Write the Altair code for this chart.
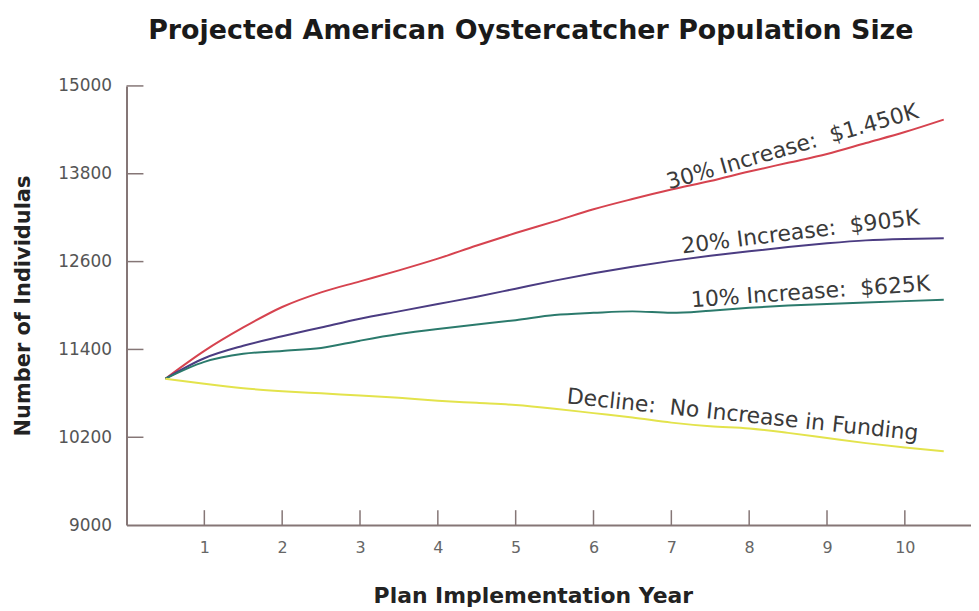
import altair as alt
import pandas as pd

# ---- data ----
years = [0.5, 1, 1.5, 2, 2.5, 3, 3.5, 4, 4.5, 5, 5.5, 6, 6.5, 7, 7.5, 8, 8.5, 9, 9.5, 10, 10.5]
pop_30 = [11000, 11380, 11700, 11980, 12180, 12330, 12480, 12640, 12820, 12990, 13150,
          13315, 13455, 13585, 13700, 13830, 13950, 14070, 14220, 14370, 14540]
pop_20 = [11000, 11280, 11450, 11580, 11700, 11820, 11920, 12020, 12120, 12230, 12340,
          12440, 12530, 12610, 12680, 12740, 12800, 12850, 12890, 12910, 12920]
pop_10 = [11000, 11230, 11340, 11380, 11420, 11520, 11610, 11680, 11740, 11800, 11870,
          11900, 11920, 11900, 11930, 11970, 12000, 12020, 12040, 12060, 12080]
pop_0 = [11000, 10930, 10870, 10830, 10800, 10770, 10740, 10700, 10670, 10640, 10590,
         10530, 10470, 10400, 10350, 10320, 10260, 10190, 10120, 10060, 10010]

series_names = ["Decline", "10% Increase", "20% Increase", "30% Increase"]
series_colors = ["#e3e34c", "#2b7a6c", "#4b3c82", "#d6434f"]

y_ticks = [9000, 10200, 11400, 12600, 13800, 15000]
x_ticks = [1, 2, 3, 4, 5, 6, 7, 8, 9, 10]

NB = "\u00a0"
label_text = ["30% Increase:" + NB + NB + "$1.450K", "20% Increase:" + NB + NB + "$905K",
              "10% Increase:" + NB + NB + "$625K", "Decline:" + NB + NB + "No Increase in Funding"]
label_x = [8.6, 8.68, 8.8, 7.9]
label_y = [14000, 12830, 12010, 10330]
label_angle = [344, 353, 356, 6]

# ---- tables ----
rows = []
for name, vals in zip(["30% Increase", "20% Increase", "10% Increase", "Decline"],
                      [pop_30, pop_20, pop_10, pop_0]):
    for yr, v in zip(years, vals):
        rows.append({"year": yr, "pop": v, "series": name})
lines_df = pd.DataFrame(rows)
labels_df = pd.DataFrame({"text": label_text, "x": label_x, "y": label_y, "angle": label_angle})
yt_df = pd.DataFrame({"v": y_ticks[1:]})
xt_df = pd.DataFrame({"v": x_ticks})

AXIS_COLOR = "#857676"
W, H = 848, 441
xscale = alt.Scale(domain=[0, 10.85], nice=False, zero=False)
yscale = alt.Scale(domain=[9000, 15000], nice=False, zero=False)

lines = alt.Chart(lines_df).mark_line(strokeWidth=2, interpolate="monotone").encode(
    x=alt.X("year:Q", scale=xscale,
            axis=alt.Axis(values=x_ticks, format="d", tickSize=0, labelPadding=15,
                          title="Plan Implementation Year", titlePadding=30, titleX=408,
                          titleFontSize=22, titleFont="DejaVu Sans", titleFontWeight="bold",
                          titleColor="#222", labelFont="DejaVu Sans", labelFontSize=16,
                          labelColor="#666", domainColor=AXIS_COLOR, domainWidth=2,
                          grid=False)),
    y=alt.Y("pop:Q", scale=yscale,
            axis=alt.Axis(values=y_ticks, format="d", tickSize=0, labelPadding=15,
                          title="Number of Individulas", titlePadding=24,
                          titleFontSize=21, titleFont="DejaVu Sans", titleFontWeight="bold",
                          titleColor="#222", labelFont="DejaVu Sans", labelFontSize=17,
                          labelColor="#555", domainColor=AXIS_COLOR, domainWidth=2,
                          grid=False)),
    color=alt.Color("series:N", scale=alt.Scale(domain=series_names, range=series_colors),
                    legend=None),
    detail="series:N",
)

ytick_rules = alt.Chart(yt_df).mark_rule(color=AXIS_COLOR, strokeWidth=1.5).encode(
    y=alt.Y("v:Q", scale=yscale), x=alt.value(0), x2=alt.value(17))
xtick_rules = alt.Chart(xt_df).mark_rule(color=AXIS_COLOR, strokeWidth=1.5).encode(
    x=alt.X("v:Q", scale=xscale), y=alt.value(H), y2=alt.value(H - 15))

labels = alt.Chart(labels_df).mark_text(
    font="DejaVu Sans", fontSize=22, color="#3a3a3a", align="center", baseline="bottom", dy=-1
).encode(
    x=alt.X("x:Q", scale=xscale),
    y=alt.Y("y:Q", scale=yscale),
    text="text:N",
    angle=alt.Angle("angle:Q", scale=None),
)

chart = alt.layer(ytick_rules, xtick_rules, lines, labels).properties(
    width=W, height=H,
    background="white",
    title=alt.TitleParams("Projected American Oystercatcher Population Size",
                          font="DejaVu Sans", fontSize=27, fontWeight="bold",
                          color="#1a1a1a", anchor="middle", offset=32, dx=-18),
    autosize=alt.AutoSizeParams(type="none"),
    padding={"left": 119, "top": 77, "right": 0, "bottom": 86},
).configure_view(stroke="transparent", strokeWidth=0)

chart.save("out.html", embed_options={"renderer": "svg", "actions": False})
